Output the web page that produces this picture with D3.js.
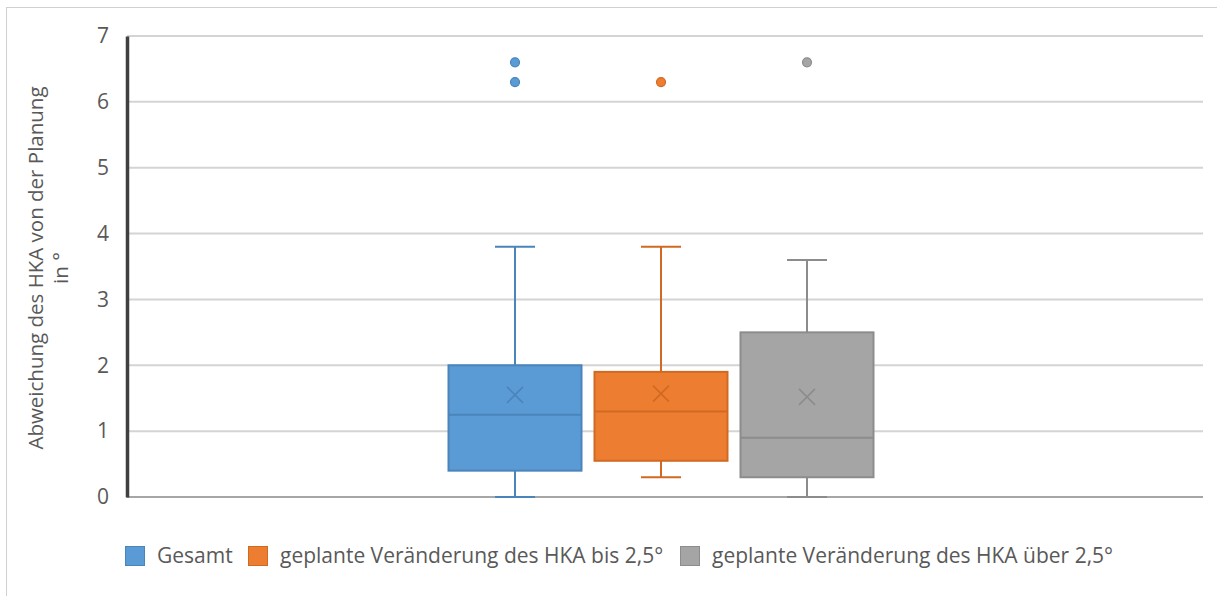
<!DOCTYPE html>
<html><head><meta charset="utf-8">
<script src="https://cdn.jsdelivr.net/npm/d3@7"></script>
<style>html,body{margin:0;padding:0;background:#fff;}svg{display:block;font-family:"Open Sans",sans-serif;}</style>
</head><body>
<svg id="c" width="1217" height="596"></svg>
<script>
const seriesNames = ["Gesamt", "geplante Veränderung des HKA bis 2,5°", "geplante Veränderung des HKA über 2,5°"];
const mins     = [0.0, 0.3, 0.0];
const q1s      = [0.4, 0.55, 0.3];
const medians  = [1.25, 1.3, 0.9];
const q3s      = [2.0, 1.9, 2.5];
const maxs     = [3.8, 3.8, 3.6];
const means    = [1.55, 1.57, 1.52];
const outliers = [[6.3, 6.6], [6.3], [6.6]];
const yTicks   = [0, 1, 2, 3, 4, 5, 6, 7];
const yTitle   = ["Abweichung des HKA von der Planung", "in °"];

const fills   = ["#5b9bd5", "#ed7d31", "#a5a5a5"];
const strokes = ["#4a84bb", "#d06a22", "#8c8c8c"];

const svg = d3.select("#c");
svg.append("rect").attr("x",6.5).attr("y",7.5).attr("width",1230).attr("height",600)
  .attr("fill","none").attr("stroke","#d0d0d0").attr("stroke-width",1);

const pLeft = 127, pRight = 1203, pTop = 36, pBottom = 497;
const y = d3.scaleLinear().domain([0,7]).range([pBottom, pTop]);

svg.append("g").selectAll("line").data(yTicks.filter(t=>t>0)).join("line")
  .attr("x1",pLeft).attr("x2",pRight).attr("y1",d=>y(d)).attr("y2",d=>y(d))
  .attr("stroke","#d4d4d4").attr("stroke-width",2);
svg.append("line").attr("x1",pLeft).attr("x2",pRight).attr("y1",y(0)).attr("y2",y(0))
  .attr("stroke","#a6a6a6").attr("stroke-width",2);

const yAxis = d3.axisLeft(y).tickValues(yTicks).tickSize(0).tickPadding(18).tickFormat(d3.format("d"));
const ga = svg.append("g").attr("transform",`translate(${pLeft},0)`).call(yAxis);
ga.select(".domain").attr("stroke","#404040").attr("stroke-width",3.5);
ga.selectAll("text").attr("font-size",21).attr("fill","#595959").attr("font-family","'Open Sans',sans-serif");

const yt = svg.append("text").attr("transform","translate(43,268) rotate(-90)")
  .attr("text-anchor","middle").attr("font-size",20.5).attr("fill","#595959");
yt.append("tspan").attr("x",0).attr("dy",0).text(yTitle[0]);
yt.append("tspan").attr("x",0).attr("dy",25).text(yTitle[1]);

const center = 661;
const x1 = d3.scaleBand().domain(seriesNames).range([center-212.5, center+212.5]).paddingInner(13/146);
const bw = x1.bandwidth();
const capW = 40, xs = 8;

seriesNames.forEach((s,i)=>{
  const g = svg.append("g");
  const cx = x1(s) + bw/2;
  g.append("line").attr("x1",cx).attr("x2",cx).attr("y1",y(q3s[i])).attr("y2",y(maxs[i])).attr("stroke",strokes[i]).attr("stroke-width",2);
  g.append("line").attr("x1",cx).attr("x2",cx).attr("y1",y(q1s[i])).attr("y2",y(mins[i])).attr("stroke",strokes[i]).attr("stroke-width",2);
  g.append("line").attr("x1",cx-capW/2).attr("x2",cx+capW/2).attr("y1",y(maxs[i])).attr("y2",y(maxs[i])).attr("stroke",strokes[i]).attr("stroke-width",2);
  g.append("line").attr("x1",cx-capW/2).attr("x2",cx+capW/2).attr("y1",y(mins[i])).attr("y2",y(mins[i])).attr("stroke",strokes[i]).attr("stroke-width",2);
  g.append("rect").attr("x",x1(s)).attr("width",bw).attr("y",y(q3s[i])).attr("height",y(q1s[i])-y(q3s[i]))
    .attr("fill",fills[i]).attr("stroke",strokes[i]).attr("stroke-width",2);
  g.append("line").attr("x1",x1(s)).attr("x2",x1(s)+bw).attr("y1",y(medians[i])).attr("y2",y(medians[i])).attr("stroke",strokes[i]).attr("stroke-width",2);
  const my = y(means[i]);
  g.append("path").attr("d",`M${cx-xs},${my-xs}L${cx+xs},${my+xs}M${cx-xs},${my+xs}L${cx+xs},${my-xs}`)
    .attr("stroke",strokes[i]).attr("stroke-width",1.6).attr("fill","none");
  g.selectAll("circle").data(outliers[i]).join("circle")
    .attr("cx",cx).attr("cy",d=>y(d)).attr("r",4.5)
    .attr("fill",fills[i]).attr("stroke",strokes[i]).attr("stroke-width",1.2);
});

const legX = [125, 248, 680];
const lg = svg.append("g");
seriesNames.forEach((s,i)=>{
  lg.append("rect").attr("x",legX[i]+0.5).attr("y",546.5).attr("width",19).attr("height",19)
    .attr("fill",fills[i]).attr("stroke",strokes[i]).attr("stroke-width",1);
  lg.append("text").attr("x",legX[i]+32).attr("y",563).attr("font-size",21).attr("fill","#595959").text(s);
});
</script>
</body></html>
